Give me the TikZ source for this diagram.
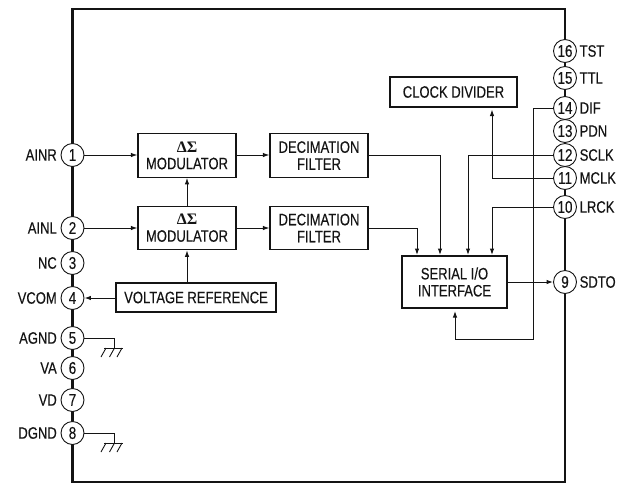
\documentclass[tikz,border=0pt]{standalone}
\usepackage{fontspec}
\setmainfont[FakeStretch=0.79,FakeBold=0.25]{Liberation Sans}
\newfontfamily\serfont{Liberation Serif}
\usetikzlibrary{arrows.meta}
\definecolor{ink}{HTML}{141414}
\tikzset{
  chipframe/.style={draw=ink,line width=2.2pt,minimum width=492.5pt,minimum height=473pt,inner sep=0pt},
  pinnode/.style={circle,draw=ink,line width=0.9pt,fill=white,minimum size=23pt,inner sep=0pt,font=\fontsize{17}{17}\selectfont,text=ink},
  pinlabel/.style={inner sep=0pt,font=\fontsize{16.5}{16.5}\selectfont,text=ink},
  blockbox/.style={draw=ink,line width=1.15pt,inner sep=0pt,align=center,font=\fontsize{16.5}{17}\selectfont,text=ink},
  wire/.style={draw=ink,line width=1pt},
  sig/.style={wire,-{Latex[length=6.5pt,width=4.5pt]}},
  gndwire/.style={draw=ink,line width=0.9pt}
}
\newcommand{\dsig}{{\serfont\bfseries\fontsize{16}{16}\selectfont ΔΣ}}
\begin{document}
\begin{tikzpicture}[x=1pt,y=-1pt]
\useasboundingbox (0,0) rectangle (618,483);
\node[chipframe] (chip) at (318.75,245.5) {};
% left pins
\foreach \n/\yy/\lab in {1/155/AINR,2/228/AINL,3/263/NC,4/298/VCOM,5/338/AGND,6/368/VA,7/400/VD,8/433/DGND}{
  \node[pinnode] (p\n) at (72.5,\yy) {\n};
  \node[pinlabel,anchor=east] (l\n) at (57,\yy) {\lab};
}
% right pins
\foreach \n/\yy/\lab in {16/51/TST,15/78/TTL,14/108/DIF,13/131/PDN,12/155/SCLK,11/178/MCLK,10/207/LRCK,9/282/SDTO}{
  \node[pinnode] (p\n) at (565,\yy) {\n};
  \node[pinlabel,anchor=west] (l\n) at (579.5,\yy) {\lab};
}
% blocks
\node[blockbox,minimum width=98pt,minimum height=43.5pt] (mod1) at (187,155.5) {\dsig\\MODULATOR};
\node[blockbox,minimum width=98pt,minimum height=43.5pt] (mod2) at (187,228) {\dsig\\MODULATOR};
\node[blockbox,minimum width=98pt,minimum height=43.5pt] (dec1) at (319,155.5) {DECIMATION\\FILTER};
\node[blockbox,minimum width=98pt,minimum height=43.5pt] (dec2) at (319,228) {DECIMATION\\FILTER};
\node[blockbox,minimum width=160pt,minimum height=29pt] (vref) at (196,297.5) {VOLTAGE REFERENCE};
\node[blockbox,minimum width=127pt,minimum height=30pt] (clk) at (453.5,92) {CLOCK DIVIDER};
\node[blockbox,minimum width=105pt,minimum height=52pt] (sio) at (454.5,282) {SERIAL I/O\\INTERFACE};
% stops of arrows that end short of a block
\coordinate (clkin) at (492,109.5);
\coordinate (sioret) at (455,311);
\coordinate (dec1in) at (440,255);
\coordinate (dec2in) at (417,255);
\coordinate (sclkin) at (468,255);
\coordinate (lrckin) at (492,255);
\coordinate (difdown) at (533,339);
% signals
\draw[sig] (p1) -- (mod1.west |- p1);
\draw[sig] (p2) -- (mod2.west |- p2);
\draw[sig] (mod1.east |- p1) -- (dec1.west |- p1);
\draw[sig] (mod2.east |- p2) -- (dec2.west |- p2);
\draw[sig] (mod2.north) -- (mod1.south);
\draw[sig] (vref.north -| mod2) -- (mod2.south);
\draw[sig] (vref.west |- p4) -- (p4);
\draw[sig] (dec1.east |- p1) -| (dec1in);
\draw[sig] (dec2.east |- p2) -| (dec2in);
\draw[sig] (p12) -| (sclkin);
\draw[sig] (p10) -| (lrckin);
\draw[sig] (p11) -| (clkin);
\draw[sig] (sio.east |- p9) -- (p9);
\draw[sig] (p14) -| (difdown) -| (sioret);
% grounds
\foreach \n/\yy in {5/338,8/433}{
  \coordinate (g\n) at (114,\yy+10);
  \draw[gndwire] (p\n) -| (g\n);
  \draw[gndwire] (104,\yy+10) -- (123,\yy+10);
  \draw[gndwire] (106,\yy+10) -- (101,\yy+19);
  \draw[gndwire] (114.5,\yy+10) -- (109.5,\yy+19);
  \draw[gndwire] (122,\yy+10) -- (117,\yy+19);
}
\end{tikzpicture}
\end{document}
